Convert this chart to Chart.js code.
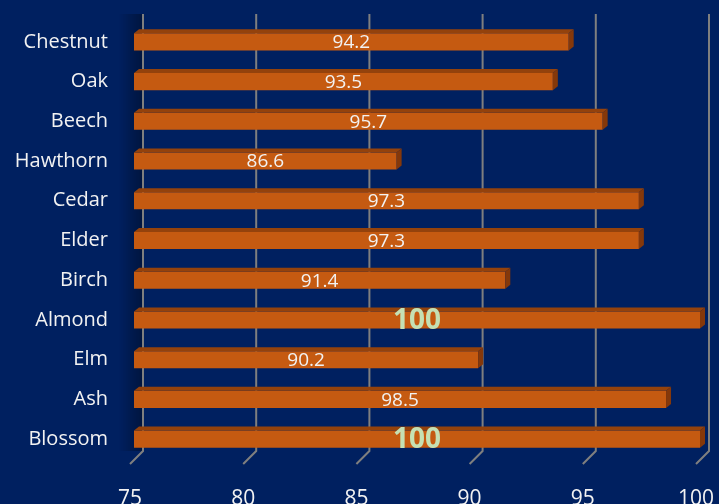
<!DOCTYPE html>
<html>
<head>
<meta charset="utf-8">
<script src="https://cdn.jsdelivr.net/npm/chart.js@4"></script>
<style>
  html, body { margin: 0; padding: 0; background: #002060; }
  #wrap { width: 719px; height: 504px; }
</style>
</head>
<body>
<div id="wrap"><canvas id="mycanvas" width="719" height="504"></canvas></div>
<script>
var trees = ['Chestnut', 'Oak', 'Beech', 'Hawthorn', 'Cedar', 'Elder', 'Birch', 'Almond', 'Elm', 'Ash', 'Blossom'];
var scores = [94.2, 93.5, 95.7, 86.6, 97.3, 97.3, 91.4, 100, 90.2, 98.5, 100];
var xTicks = [75, 80, 85, 90, 95, 100];

var depthX = 5, depthY = 4;

// gridlines on the back wall, with a slanted foot
var backGrid = {
  id: 'backGrid',
  beforeDatasetsDraw: function(chart) {
    var ctx = chart.ctx, area = chart.chartArea, xs = chart.scales.x;
    ctx.save();
    // soft shadow of the left wall
    var wallX = xs.getPixelForValue(xTicks[0]) + 9;
    var g = ctx.createLinearGradient(wallX - 24, 0, wallX, 0);
    g.addColorStop(0, 'rgba(0,0,0,0)');
    g.addColorStop(1, 'rgba(0,0,0,0.35)');
    ctx.fillStyle = g;
    ctx.fillRect(wallX - 24, area.top - 8, 24, area.bottom - area.top);

    ctx.strokeStyle = '#7f7f7f';
    ctx.lineWidth = 2;
    xTicks.forEach(function(v) {
      var px = xs.getPixelForValue(v);
      ctx.beginPath();
      ctx.moveTo(px + 9, area.top - 8);
      ctx.lineTo(px + 9, area.bottom - 8);
      ctx.lineTo(px - 4, area.bottom + 5);
      ctx.stroke();
    });
    ctx.restore();
  }
};

// top and side faces of each bar + value labels
var bars3d = {
  id: 'bars3d',
  afterDatasetsDraw: function(chart) {
    var ctx = chart.ctx;
    var meta = chart.getDatasetMeta(0);
    var x0 = chart.scales.x.getPixelForValue(xTicks[0]);
    ctx.save();
    meta.data.forEach(function(bar, i) {
      var x1 = bar.x;
      var top = bar.y - bar.height / 2, bottom = bar.y + bar.height / 2;
      ctx.fillStyle = '#94420c';
      ctx.beginPath();
      ctx.moveTo(x0, top);
      ctx.lineTo(x0 + depthX, top - depthY);
      ctx.lineTo(x1 + depthX, top - depthY);
      ctx.lineTo(x1, top);
      ctx.closePath();
      ctx.fill();
      ctx.fillStyle = '#85380a';
      ctx.beginPath();
      ctx.moveTo(x1, top);
      ctx.lineTo(x1 + depthX, top - depthY);
      ctx.lineTo(x1 + depthX, bottom - depthY);
      ctx.lineTo(x1, bottom);
      ctx.closePath();
      ctx.fill();

      var v = scores[i];
      ctx.textAlign = 'center';
      ctx.textBaseline = 'middle';
      if (v === 100) {
        ctx.fillStyle = '#c5e0b4';
        ctx.font = 'bold 28px "Open Sans", sans-serif';
        ctx.fillText('100', (x0 + x1) / 2, bar.y + 1);
      } else {
        ctx.fillStyle = '#f2f2f2';
        ctx.font = '19px "Open Sans", sans-serif';
        ctx.fillText(v.toFixed(1), (x0 + x1) / 2, bar.y + 1);
      }
    });
    ctx.restore();
  }
};

var ctx = document.getElementById('mycanvas');
var barGraph = new Chart(ctx, {
  type: 'bar',
  data: {
    labels: trees,
    datasets: [{
      data: scores,
      backgroundColor: '#c55a11',
      borderWidth: 0,
      barPercentage: 0.43,
      categoryPercentage: 1
    }]
  },
  options: {
    indexAxis: 'y',
    responsive: false,
    animation: false,
    layout: { padding: { top: 22, right: 19, left: 0, bottom: 0 } },
    plugins: { legend: { display: false }, tooltip: { enabled: false } },
    scales: {
      x: {
        min: 75,
        max: 100,
        afterBuildTicks: function(s) { s.ticks = xTicks.map(function(v) { return { value: v }; }); },
        afterFit: function(s) { s.height = 45; s.paddingLeft = 0; s.paddingRight = 0; },
        grid: { display: false, drawTicks: false },
        border: { display: false },
        ticks: { color: '#f2f2f2', padding: 27, labelOffset: -4, font: { family: 'Open Sans', size: 21 } }
      },
      y: {
        afterFit: function(s) { s.width = 134; s.paddingTop = 0; s.paddingBottom = 0; },
        grid: { display: false, drawTicks: false },
        border: { display: false },
        ticks: { color: '#f2f2f2', padding: 26, font: { family: 'Open Sans', size: 20 } }
      }
    }
  },
  plugins: [backGrid, bars3d]
});
</script>
</body>
</html>
